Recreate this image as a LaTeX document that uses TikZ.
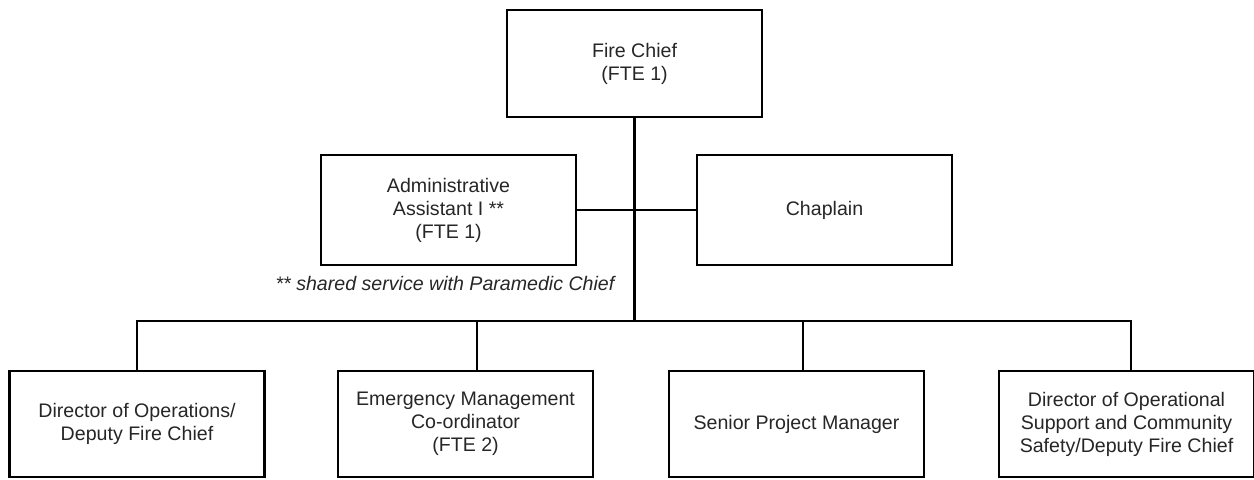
\documentclass[tikz,border=0pt]{standalone}
\usepackage{fontspec}
\setmainfont{Liberation Sans}
\usepackage{amsmath}

\begin{document}
\begin{tikzpicture}[x=0.75pt,y=-0.75pt]
\tikzstyle{every node}+=[inner sep=0pt]
\tikzstyle{post}=[draw=black, line width=2pt, align=center, text=black!85,
  minimum width=191.25pt, minimum height=79.5pt,
  font=\fontsize{14.7pt}{17.25pt}\selectfont]
\tikzstyle{link}=[black, line width=2pt]
\useasboundingbox (0,0) rectangle (1254,479);
% top level
\node [post, minimum height=80.25pt] (chief) at (634.5,63.5) {Fire Chief\\(FTE 1)};
\node [post, minimum height=82.5pt] (admin) at (448.5,210) {Administrative\\Assistant I **\\(FTE 1)};
\node [post, minimum height=82.5pt] (chap) at (824.5,210) {Chaplain};
\node [text=black!85, font=\fontsize{14.7pt}{17.25pt}\selectfont\itshape] (note) at (445,283) {** shared service with Paramedic Chief};
% bottom row
\node [post] (dops) at (137,424) {Director of Operations/\\Deputy Fire Chief};
\node [post] (emc) at (465.5,424) {Emergency Management\\Co-ordinator\\(FTE 2)};
\node [post] (spm) at (796.5,424) {Senior Project Manager};
\node [post] (dosc) at (1126.5,424) {Director of Operational\\Support and Community\\Safety/Deputy Fire Chief};
% connectors
\coordinate (bus) at (633,321);
\draw [link] (chief.south) -- (chief.south |- bus);
\draw [link] (admin.east) -- (chap.west);
\draw [link] (dops.north) |- (bus);
\draw [link] ([xshift=8.6pt]emc.north) |- (bus);
\draw [link] ([xshift=4.9pt]spm.north) |- (bus);
\draw [link] ([xshift=3.4pt]dosc.north) |- (bus);
\end{tikzpicture}
\end{document}
